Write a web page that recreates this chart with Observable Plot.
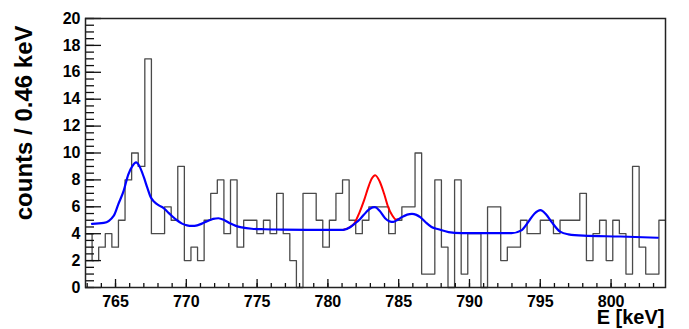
<!DOCTYPE html>
<html><head><meta charset="utf-8">
<script src="https://cdn.jsdelivr.net/npm/d3@7"></script>
<script src="https://cdn.jsdelivr.net/npm/@observablehq/plot@0.6"></script>
<style>body{margin:0;background:#fff}</style>
</head><body><div id="chart"></div>
<script>
// histogram: 88 bins starting at binStart
const binStart = 762.88;
const binWidth = 0.4655;
const counts = [4,2,3,4,3,5,8,10,9,17,
  4,4,6,5,9,2,3,2,5,7,
  8,4,8,3,5,5,4,5,4,7,
  4,2,0,7,7,5,3,5,7,8,
  5,4,5,6,6,6,4,5,6,6,
  10,1,1,8,3,0,8,1,4,4,
  0,6,6,2,3,3,5,4,4,5,
  5,4,5,5,5,7,2,4,5,2,
  5,4,1,9,3,1,1,5];

// blue fit curve
const fitE = [763.34,764.17,764.88,765.2,765.58,765.9,766.2,766.45,766.7,767.0,767.25,767.47,767.75,768.06,768.4,768.65,769.0,769.34,769.7,770.05,770.4,770.77,771.1,771.47,771.9,772.27,772.7,773.12,773.5,773.92,774.62,775.5,776.72,779.19,781.1,781.57,781.9,782.28,782.7,783.0,783.32,783.65,784.04,784.35,784.63,784.9,785.22,785.6,785.94,786.25,786.52,786.9,787.32,787.81,788.52,789.43,791.0,792.97,793.67,794.17,794.6,795.01,795.4,795.81,796.4,796.99,798.05,800.66,803.3];
const fitY = [4.73,4.8,5.35,6.2,7.2,8.4,9.05,9.3,9.0,8.2,7.4,6.75,6.35,6.1,5.9,5.65,5.3,5.0,4.75,4.62,4.58,4.62,4.75,4.92,5.1,5.15,5.0,4.75,4.58,4.47,4.37,4.33,4.31,4.29,4.29,4.48,4.75,5.1,5.6,5.88,5.97,5.7,5.15,4.92,4.88,5.02,5.23,5.42,5.48,5.4,5.23,4.85,4.5,4.33,4.12,4.05,4.04,4.04,4.25,4.9,5.5,5.75,5.45,4.86,4.15,3.95,3.85,3.79,3.7];

// red curve (with extra peak)
const peakE = [781.1,781.57,781.86,782.2,782.56,782.9,783.1,783.34,783.65,783.97,784.25,784.55,784.8,785.02];
const peakY = [4.29,4.5,4.75,5.5,6.5,7.6,8.1,8.35,7.9,6.97,6.0,5.35,5.05,5.1];

const yMajor = [0,2,4,6,8,10,12,14,16,18,20];
const yMinor = d3.range(0, 20.001, 0.5);
const xMajor = [765,770,775,780,785,790,795,800];
const xMinor = d3.range(763, 804, 1);
const yTitle = "counts / 0.46 keV";
const xTitle = "E [keV]";

const binEnd = binStart + counts.length * binWidth;
const hist = counts.map((c, i) => ({E: binStart + i * binWidth, c}));
hist.push({E: binEnd, c: counts[counts.length - 1]});
const fit = fitE.map((e, i) => ({E: e, v: fitY[i]}));
const peak = peakE.map((e, i) => ({E: e, v: peakY[i]}));

const chart = Plot.plot({
  width: 689, height: 329,
  marginLeft: 85, marginRight: 24, marginTop: 18, marginBottom: 42,
  style: {fontFamily: "'Liberation Sans', Arial, Helvetica, sans-serif", fontWeight: "bold", background: "white", color: "black"},
  x: {domain: [binStart, binEnd], label: null, axis: null},
  y: {domain: [0, 20], label: null, axis: null},
  marks: [
    Plot.line(hist, {x: "E", y: "c", curve: "step-after", stroke: "#4a4a4a", strokeWidth: 1.3}),
    Plot.line(peak, {x: "E", y: "v", curve: "monotone-x", stroke: "#ff0000", strokeWidth: 2}),
    Plot.line(fit, {x: "E", y: "v", curve: "monotone-x", stroke: "#0000ff", strokeWidth: 2.2}),
    Plot.axisY(yMinor, {anchor: "left", tickSize: -9, fill: "none", stroke: "#111", strokeWidth: 1.3}),
    Plot.axisY(yMajor, {anchor: "left", tickSize: -16, fill: "none", stroke: "#111", strokeWidth: 1.3}),
    Plot.axisY(yMajor, {anchor: "left", tickSize: 0, tickPadding: 5, fontSize: 16}),
    Plot.axisX(xMinor, {anchor: "bottom", tickSize: -4, fill: "none", stroke: "#111", strokeWidth: 1.3}),
    Plot.axisX(xMajor, {anchor: "bottom", tickSize: -8, fill: "none", stroke: "#111", strokeWidth: 1.3}),
    Plot.axisX(xMajor, {anchor: "bottom", tickSize: 0, tickPadding: 8, fontSize: 16}),
    Plot.frame({stroke: "#222", strokeWidth: 1.5}),
    Plot.text([yTitle], {frameAnchor: "top-left", rotate: -90, textAnchor: "end", dx: -70.5, dy: 7, fontSize: 24}),
    Plot.text([xTitle], {frameAnchor: "bottom-right", textAnchor: "end", dx: -1, dy: 36.5, fontSize: 20})
  ]
});
document.getElementById("chart").appendChild(chart);
</script>
</body></html>
